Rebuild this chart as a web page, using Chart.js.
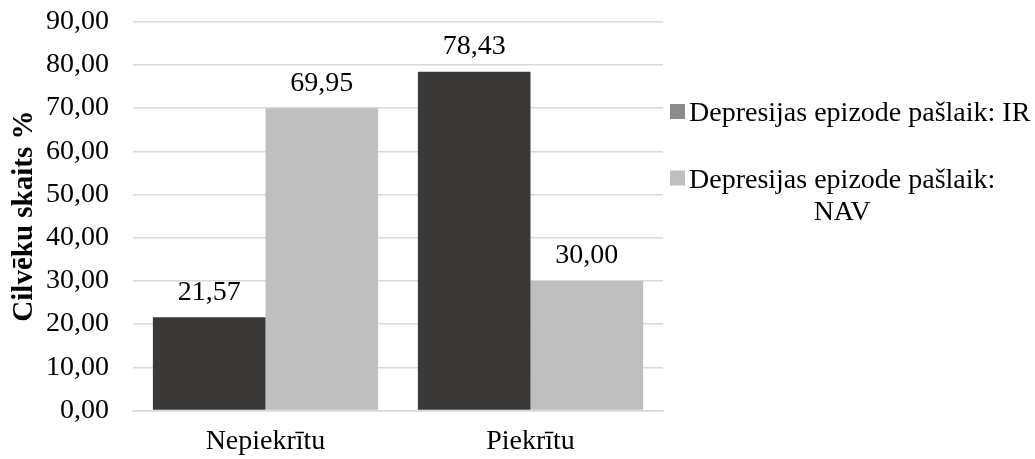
<!DOCTYPE html>
<html>
<head>
<meta charset="utf-8">
<script src="https://cdn.jsdelivr.net/npm/chart.js@4.4.1/dist/chart.umd.min.js"></script>
<style>
html,body{margin:0;padding:0;background:#fff;}
#wrap{width:1035px;height:459px;position:relative;}
</style>
</head>
<body>
<div id="wrap"><canvas id="c" width="1035" height="459"></canvas></div>
<script>
const categories = ["Nepiekrītu", "Piekrītu"];
const seriesNames = [["Depresijas epizode pašlaik: IR"], ["Depresijas epizode pašlaik:", "NAV"]];
const valuesIR = [21.57, 78.43];
const valuesNAV = [69.95, 30.00];
const yTicks = [0, 10, 20, 30, 40, 50, 60, 70, 80, 90];
const yTitle = "Cilvēku skaits %";

const FONT = "'Liberation Serif', 'Times New Roman', serif";
const FS = 28;
const fmt = v => Number(v).toFixed(2).replace('.', ',');

const dataLabels = {
  id: 'dataLabels',
  afterDatasetsDraw(chart) {
    const ctx = chart.ctx;
    ctx.save();
    ctx.font = FS + "px " + FONT;
    ctx.fillStyle = "#000";
    ctx.textAlign = "center";
    ctx.textBaseline = "alphabetic";
    chart.data.datasets.forEach((ds, i) => {
      const meta = chart.getDatasetMeta(i);
      meta.data.forEach((bar, j) => {
        ctx.fillText(fmt(ds.data[j]), bar.x, bar.y - 17.5);
      });
    });
    ctx.restore();
  }
};

const customLegend = {
  id: 'customLegend',
  afterDraw(chart) {
    const ctx = chart.ctx;
    ctx.save();
    ctx.font = FS + "px " + FONT;
    ctx.textBaseline = "alphabetic";
    ctx.textAlign = "center";
    const markerX = 670, markerSize = 15, textLeft = 689;
    const itemTops = [111.5, 178];
    chart.data.datasets.forEach((ds, i) => {
      const lines = ds.legendLines;
      const cy = itemTops[i];
      ctx.fillStyle = ds.legendColor;
      ctx.fillRect(markerX, cy - markerSize / 2, markerSize, markerSize);
      const maxW = Math.max(...lines.map(l => ctx.measureText(l).width));
      ctx.fillStyle = "#000";
      lines.forEach((l, k) => {
        ctx.fillText(l, textLeft + maxW / 2, cy + 9.5 + k * 32);
      });
    });
    ctx.restore();
  }
};

new Chart(document.getElementById('c'), {
  type: 'bar',
  data: {
    labels: categories,
    datasets: [
      { label: seriesNames[0].join(' '), legendLines: seriesNames[0], data: valuesIR,
        backgroundColor: '#3a3938', legendColor: '#8c8c8c',
        categoryPercentage: 0.85, barPercentage: 1.0 },
      { label: seriesNames[1].join(' '), legendLines: seriesNames[1], data: valuesNAV,
        backgroundColor: '#bfbfbf', legendColor: '#bfbfbf',
        categoryPercentage: 0.85, barPercentage: 1.0 }
    ]
  },
  options: {
    responsive: false,
    animation: false,
    devicePixelRatio: 1,
    layout: { padding: { top: 21.7, right: 372, left: 0, bottom: 0 } },
    plugins: { legend: { display: false }, tooltip: { enabled: false } },
    scales: {
      x: {
        grid: { display: false },
        border: { display: true, color: '#d9d9d9', width: 1.5 },
        ticks: { color: '#000', font: { family: FONT, size: FS }, padding: 6, maxRotation: 0 },
        afterFit: s => { s.height = 48.5; s.paddingLeft = 0; s.paddingRight = 0; }
      },
      y: {
        min: 0, max: 90,
        afterBuildTicks: s => { s.ticks = yTicks.map(v => ({ value: v })); },
        grid: { color: '#d9d9d9', lineWidth: 1.5, drawTicks: false },
        border: { display: false },
        ticks: { color: '#000', font: { family: FONT, size: FS }, padding: 24, callback: v => fmt(v) },
        title: { display: true, text: yTitle, color: '#000', font: { family: FONT, size: 29, weight: 'bold' }, padding: { top: 7, bottom: 0 } },
        afterFit: s => { s.width = 133; s.paddingTop = 0; s.paddingBottom = 0; }
      }
    }
  },
  plugins: [dataLabels, customLegend]
});
</script>
</body>
</html>
